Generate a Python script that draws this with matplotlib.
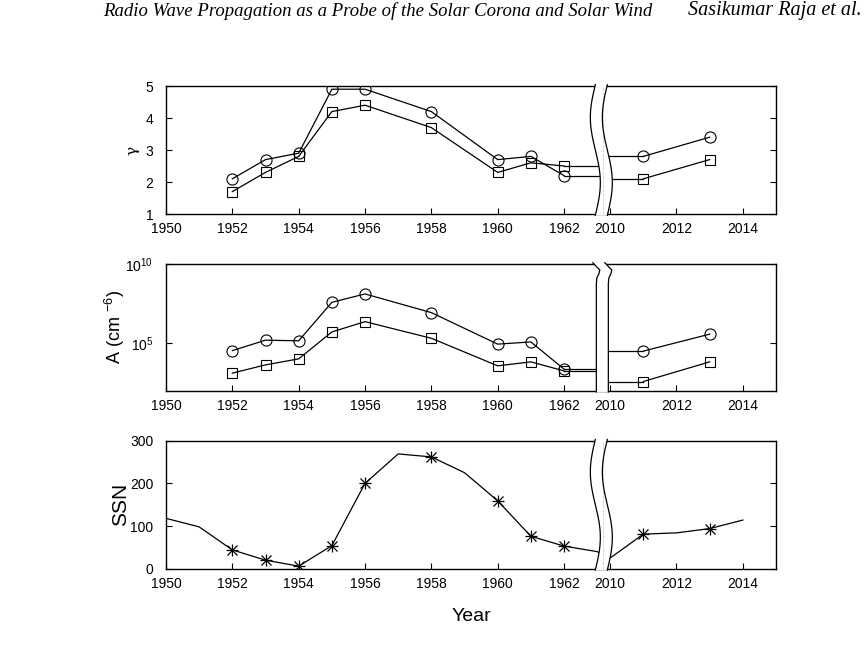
import numpy as np
import matplotlib
matplotlib.use("Agg")
import matplotlib.pyplot as plt
from matplotlib.patches import Polygon

plt.rcParams['font.family'] = ['Liberation Sans', 'DejaVu Sans']
plt.rcParams['mathtext.fontset'] = 'custom'
plt.rcParams['mathtext.rm'] = 'Liberation Sans'
plt.rcParams['mathtext.it'] = 'Liberation Sans:italic'

# ---------------- data ----------------
obs_years_left = [1952, 1953, 1954, 1955, 1956, 1958, 1960, 1961, 1962]
obs_years_right = [2011, 2013]

gamma_circ_left = [2.1, 2.7, 2.9, 4.9, 4.9, 4.2, 2.7, 2.8, 2.2]
gamma_circ_right = [2.8, 3.4]
gamma_sq_left = [1.7, 2.3, 2.8, 4.2, 4.4, 3.7, 2.3, 2.6, 2.5]
gamma_sq_right = [2.1, 2.7]

logA_circ_left = [4.53, 5.19, 5.15, 7.58, 8.11, 6.93, 4.94, 5.08, 3.36]
logA_circ_right = [4.50, 5.57]
logA_sq_left = [3.11, 3.63, 4.01, 5.71, 6.36, 5.31, 3.57, 3.82, 3.25]
logA_sq_right = [2.58, 3.82]

ssn_years = [1950, 1951, 1952, 1953, 1954, 1955, 1956, 1957, 1958, 1959,
             1960, 1961, 1962, 1963, 2010, 2011, 2012, 2013, 2014]
ssn_values = [118, 98, 44, 20, 6, 54, 200, 269, 262, 225,
              159, 76, 53, 40, 25, 81, 84, 94, 114]
ssn_marked_years = obs_years_left + obs_years_right

xticks = [1950, 1952, 1954, 1956, 1958, 1960, 1962, 2010, 2012, 2014]
header_left = "Radio Wave Propagation as a Probe of the Solar Corona and Solar Wind"
header_right = "Sasikumar Raja et al."

# ---------------- broken x scale ----------------
BRK_A, BRK_B = 1963.15, 2009.8
SRC = [1800.0, BRK_A, BRK_B, 2200.0]
DST = [1800.0, BRK_A, BRK_A + 0.04, 2200.0 - (BRK_B - BRK_A - 0.04)]
GAP_YEAR = 1986.0  # a year inside the hidden gap


def fwd(x):
    return np.interp(x, SRC, DST)


def inv(x):
    return np.interp(x, DST, SRC)


fig = plt.figure(figsize=(8.68, 6.47), dpi=100)
L, W = 166 / 868, 610 / 868
H = 647
ax1 = fig.add_axes([L, 1 - 214 / H, W, 128 / H])
ax2 = fig.add_axes([L, 1 - 390.7 / H, W, 126.7 / H])
ax3 = fig.add_axes([L, 1 - 568.7 / H, W, 128 / H])

lw = 0.9
for ax in (ax1, ax2, ax3):
    ax.set_xscale('function', functions=(fwd, inv))
    ax.set_xlim(1950, 2015)
    ax.set_xticks(xticks)
    ax.set_xticklabels([str(t) for t in xticks])
    ax.tick_params(axis='both', direction='in', length=4, width=0.8,
                   labelsize=10, right=True, top=False)
    ax.tick_params(axis='x', pad=6)
    ax.tick_params(axis='y', pad=9)
    ax.tick_params(axis='y', which='minor', length=0)
    for s in ax.spines.values():
        s.set_linewidth(1.0)


def plot_series(ax, left, right, marker, ms, conv=lambda v: v):
    lv = [conv(v) for v in left]
    rv = [conv(v) for v in right]
    ax.plot(obs_years_left, lv, color='black', lw=lw, marker=marker,
            ms=ms, mfc='none', mec='black', mew=0.8, zorder=2)
    ax.plot(obs_years_right, rv, color='black', lw=lw, marker=marker,
            ms=ms, mfc='none', mec='black', mew=0.8, zorder=2)
    ax.plot([obs_years_left[-1], GAP_YEAR], [lv[-1], lv[-1]], color='black', lw=lw, zorder=1)
    ax.plot([GAP_YEAR, obs_years_right[0]], [rv[0], rv[0]], color='black', lw=lw, zorder=1)


# ---- panel 1: gamma ----
plot_series(ax1, gamma_circ_left, gamma_circ_right, 'o', 8)
plot_series(ax1, gamma_sq_left, gamma_sq_right, 's', 6.5)
ax1.set_ylim(1, 5)
ax1.set_yticks([1, 2, 3, 4, 5])
ax1.set_ylabel('γ', family='DejaVu Serif', fontsize=11)

# ---- panel 2: A ----
plot_series(ax2, logA_circ_left, logA_circ_right, 'o', 8, conv=lambda v: 10 ** v)
plot_series(ax2, logA_sq_left, logA_sq_right, 's', 6.5, conv=lambda v: 10 ** v)
ax2.set_yscale('log')
ax2.set_ylim(1e2, 1e10)
ax2.set_yticks([1e5, 1e10])
ax2.tick_params(axis='y', which='minor', left=False, right=False)
ax2.set_ylabel(r'A (cm $^{-6}$)', fontsize=13)

# ---- panel 3: SSN ----
ax3.plot(ssn_years, ssn_values, color='black', lw=lw, zorder=2)
mk_x = [y for y in ssn_years if y in ssn_marked_years]
mk_y = [v for y, v in zip(ssn_years, ssn_values) if y in ssn_marked_years]
ax3.plot(mk_x, mk_y, ls='none', marker='+', ms=9, mec='black', mew=0.9, zorder=3)
ax3.plot(mk_x, mk_y, ls='none', marker='x', ms=7, mec='black', mew=0.9, zorder=3)
ax3.set_ylim(0, 300)
ax3.set_yticks([0, 100, 200, 300])
ax3.set_ylabel('SSN', fontsize=15)
ax3.set_xlabel('Year', fontsize=14, labelpad=12)

# ---------------- break marks ----------------
x0, x1 = fwd(1950), fwd(2015)
cfrac = (fwd(GAP_YEAR) - x0) / (x1 - x0)
half = 6.0 / 610
amp = 5.0 / 610


def wavy_break(ax):
    t = np.linspace(0, 1, 200)
    y = 1.01 - 1.02 * t
    off = -amp * np.sin(2 * np.pi * t) - 0.3 * amp
    xl = cfrac - half + off
    xr = cfrac + half + off
    poly = Polygon(np.column_stack([np.r_[xl, xr[::-1]], np.r_[y, y[::-1]]]),
                   closed=True, transform=ax.transAxes, fc='white', ec='none',
                   clip_on=False, zorder=5)
    ax.add_patch(poly)
    ax.plot(xl, y, color='black', lw=0.9, transform=ax.transAxes, clip_on=False, zorder=6)
    ax.plot(xr, y, color='black', lw=0.9, transform=ax.transAxes, clip_on=False, zorder=6)
    ax.plot([cfrac, cfrac], [0, 1], color='#cccccc', lw=0.6, ls='--',
            transform=ax.transAxes, clip_on=False, zorder=5.5)


def straight_break(ax):
    ypx = np.array([0, 3, 6, 10, 14, 20, 126.7]) / 126.7
    dpx = np.array([-4, 0, 3, 2, 0, -0.5, -0.5]) / 610
    yy = 1.0 - ypx
    yy[0] = 1.01
    yy[-1] = -0.01
    xl = cfrac - half + dpx
    xr = cfrac + half + dpx
    poly = Polygon(np.column_stack([np.r_[xl, xr[::-1]], np.r_[yy, yy[::-1]]]),
                   closed=True, transform=ax.transAxes, fc='white', ec='none',
                   clip_on=False, zorder=5)
    ax.add_patch(poly)
    ax.plot(xl, yy, color='black', lw=0.9, transform=ax.transAxes, clip_on=False, zorder=6)
    ax.plot(xr, yy, color='black', lw=0.9, transform=ax.transAxes, clip_on=False, zorder=6)


wavy_break(ax1)
straight_break(ax2)
wavy_break(ax3)

ax1.yaxis.set_label_coords(-0.043, 0.5)
ax2.yaxis.set_label_coords(-0.064, 0.5)
ax3.yaxis.set_label_coords(-0.059, 0.5)

# ---------------- header ----------------
fig.text(103 / 868, 1 - 11 / H, header_left, family='Liberation Serif', style='italic',
         fontsize=13.5, ha='left', va='center')
fig.text(862 / 868, 1 - 11 / H, header_right, family='Liberation Serif', style='italic',
         fontsize=14.5, ha='right', va='center')

fig.savefig('out.png', dpi=100)
